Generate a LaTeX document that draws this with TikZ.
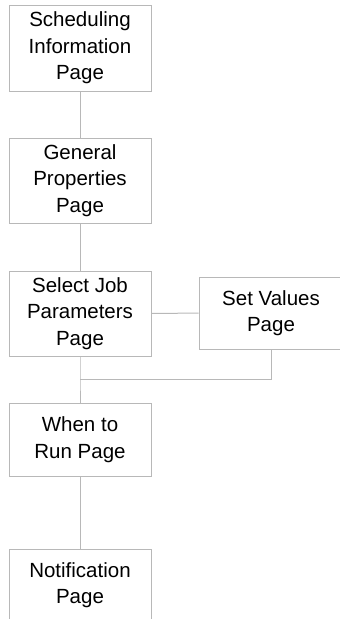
\documentclass[tikz,border=0pt]{standalone}
\usepackage{fontspec}
\setmainfont{Liberation Sans}
\usepackage{tikz}
\usetikzlibrary{shapes}

\begin{document}
\begin{tikzpicture}[x=1pt,y=-1pt,inner sep=0pt,line width=1pt,
  pagebox/.style={rectangle,draw=black!28,text=black,align=center,
    minimum width=142pt,font=\fontsize{20.5}{26.5}\selectfont},
  link/.style={draw=black!28}]
\useasboundingbox (0,0) rectangle (340,619);
\clip (0,0) rectangle (340,619);
%Node Coordinates
\node at (80,48) [pagebox,minimum height=86pt] (Page1) {Scheduling\\Information\\Page};
\node at (80,180.5) [pagebox,minimum height=85pt] (Page2) {General\\Properties\\Page};
\node at (80,313.5) [pagebox,minimum height=85pt] (Page3) {Select Job\\Parameters\\Page};
\node at (271,313) [pagebox,minimum width=144pt,minimum height=72pt] (Page4) {Set Values\\Page};
\node at (80,439.5) [pagebox,minimum height=73pt] (Page5) {When to\\Run Page};
\node at (80,585) [pagebox,minimum height=72pt] (Page6) {Notification\\Page};
\coordinate (Join) at (80,379);
%Connections
\draw [link] (Page1) -- (Page2);
\draw [link] (Page2) -- (Page3);
\draw [link] (Page3) -- (Page4);
\draw [link] (Page3.south) -- (Join) -- (Page5.north);
\draw [link] (Page4.south) |- (Join);
\draw [link] (Page5) -- (Page6);
\end{tikzpicture}
\end{document}
